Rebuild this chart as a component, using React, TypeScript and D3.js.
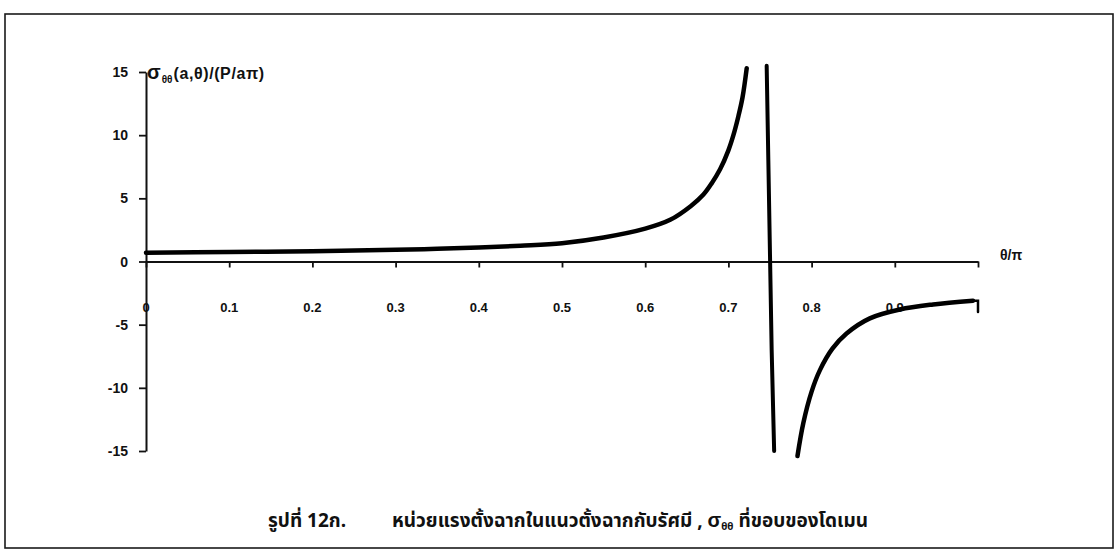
import React, { useRef, useEffect } from "react";
import * as d3 from "d3";

// values (theta / pi, sigma)
const leftTheta = [0, 0.1, 0.2, 0.3, 0.35, 0.4, 0.45, 0.5, 0.55, 0.6, 0.63, 0.655, 0.67, 0.68, 0.69, 0.7, 0.706, 0.712, 0.717, 0.722];
const leftSigma = [0.7, 0.75, 0.82, 0.93, 1.0, 1.1, 1.25, 1.45, 1.9, 2.6, 3.3, 4.4, 5.3, 6.2, 7.3, 8.8, 10.0, 11.5, 13.0, 15.3];
const midTheta = [0.746, 0.748, 0.75, 0.752, 0.755];
const midSigma = [15.5, 8, 0.5, -7, -15];
const rightTheta = [0.783, 0.79, 0.8, 0.81, 0.825, 0.842, 0.87, 0.906, 0.946, 0.994, 1.0, 1.0];
const rightSigma = [-15.4, -12.8, -10.3, -8.6, -6.9, -5.7, -4.5, -3.8, -3.4, -3.1, -3.1, -4.0];

const xTicks = [0, 0.1, 0.2, 0.3, 0.4, 0.5, 0.6, 0.7, 0.8, 0.9, 1.0];
const xTickLabels = ["0", "0.1", "0.2", "0.3", "0.4", "0.5", "0.6", "0.7", "0.8", "0.9", ""];
const yTicks = [15, 10, 5, 0, -5, -10, -15];

export default function App() {
  const ref = useRef<SVGSVGElement>(null);

  useEffect(() => {
    const svg = d3.select(ref.current);
    svg.selectAll("*").remove();
    const font = "'Liberation Sans', Arial, sans-serif";

    svg.append("rect").attr("width", 1120).attr("height", 560).attr("fill", "#fff");
    svg.append("rect")
      .attr("x", 5).attr("y", 14).attr("width", 1108).attr("height", 534)
      .attr("fill", "none").attr("stroke", "#1a1a1a").attr("stroke-width", 1.6);

    const x = d3.scaleLinear().domain([0, 1]).range([146, 978]);
    const y = d3.scaleLinear().domain([-15, 15]).range([451, 72]);

    // x axis through zero
    const xa = svg.append("g")
      .attr("transform", `translate(0,${y(0)})`)
      .call(d3.axisBottom(x).tickValues(xTicks).tickSize(6).tickSizeOuter(0).tickFormat(() => ""));
    xa.select(".domain").attr("stroke", "#111").attr("stroke-width", 2);
    xa.selectAll(".tick line").attr("stroke", "#111").attr("stroke-width", 1.8);

    svg.append("g")
      .selectAll("text")
      .data(xTicks)
      .join("text")
      .attr("x", d => x(d))
      .attr("y", y(0) + 50)
      .attr("text-anchor", "middle")
      .attr("font-family", font)
      .attr("font-weight", "bold")
      .attr("font-size", 13)
      .attr("fill", "#111")
      .text((d, i) => xTickLabels[i]);

    // y axis
    const ya = svg.append("g")
      .attr("transform", `translate(${x(0)},0)`)
      .call(d3.axisLeft(y).tickValues(yTicks).tickSize(7).tickSizeOuter(0).tickFormat(() => ""));
    ya.select(".domain").attr("stroke", "#111").attr("stroke-width", 2);
    ya.selectAll(".tick line").attr("stroke", "#111").attr("stroke-width", 1.8);

    svg.append("g")
      .selectAll("text")
      .data(yTicks)
      .join("text")
      .attr("x", x(0) - 18)
      .attr("y", d => y(d) + 5)
      .attr("text-anchor", "end")
      .attr("font-family", font)
      .attr("font-weight", "bold")
      .attr("font-size", 14)
      .attr("fill", "#111")
      .text(d => d);

    // axis titles
    const yt = svg.append("text")
      .attr("x", x(0) + 1).attr("y", y(15) + 7)
      .attr("font-family", font).attr("font-weight", "bold").attr("fill", "#111");
    yt.append("tspan").attr("font-size", 20).text("σ");
    yt.append("tspan").attr("font-size", 10).attr("dy", 4).attr("dx", 1).text("θθ");
    yt.append("tspan").attr("font-size", 16).attr("dy", -4).attr("dx", 1).attr("letter-spacing", 0.6).text("(a,θ)/(P/aπ)");

    svg.append("text")
      .attr("x", 1000).attr("y", y(0) - 2)
      .attr("font-family", font).attr("font-weight", "bold").attr("font-size", 14)
      .attr("fill", "#111").text("θ/π");

    // curves
    const smooth = d3.line<[number, number]>().x(d => x(d[0])).y(d => y(d[1])).curve(d3.curveCatmullRom.alpha(0.5));
    const straight = d3.line<[number, number]>().x(d => x(d[0])).y(d => y(d[1]));
    const nR = rightTheta.length - 2;
    const segs: [number, number][][] = [
      leftTheta.map((t, i) => [t, leftSigma[i]]),
      rightTheta.slice(0, nR).map((t, i) => [t, rightSigma[i]]),
    ];
    segs.forEach(s => {
      svg.append("path").attr("d", smooth(s)).attr("fill", "none")
        .attr("stroke", "#000").attr("stroke-width", 4.5).attr("stroke-linecap", "round").attr("stroke-linejoin", "round");
    });
    const extra: [number, number][][] = [
      midTheta.map((t, i) => [t, midSigma[i]]),
      rightTheta.slice(nR - 1).map((t, i) => [t, rightSigma[i + nR - 1]]),
    ];
    extra.forEach((s, k) => {
      svg.append("path").attr("d", straight(s)).attr("fill", "none")
        .attr("stroke", "#000").attr("stroke-width", k === 0 ? 4 : 2.5).attr("stroke-linecap", "round");
    });

    // caption
    const cap = svg.append("g").attr("font-family", "'Noto Sans Thai', 'Noto Sans', 'DejaVu Sans', sans-serif")
      .attr("font-weight", "bold").attr("font-size", 19).attr("fill", "#111");
    cap.append("text").attr("x", 268).attr("y", 527).text("รูปที่ 12ก.");
    const c2 = cap.append("text").attr("x", 392).attr("y", 527);
    c2.append("tspan").text("หน่วยแรงตั้งฉากในแนวตั้งฉากกับรัศมี , ");
    c2.append("tspan").attr("font-family", font).attr("font-size", 20).text("σ");
    c2.append("tspan").attr("font-size", 10).attr("dy", 3).text("θθ");
    c2.append("tspan").attr("dy", -3).text(" ที่ขอบของโดเมน");
  }, []);

  return (
    <svg ref={ref} width={1120} height={560}
      style={{ position: "absolute", left: 0, top: 0, display: "block" }} />
  );
}
